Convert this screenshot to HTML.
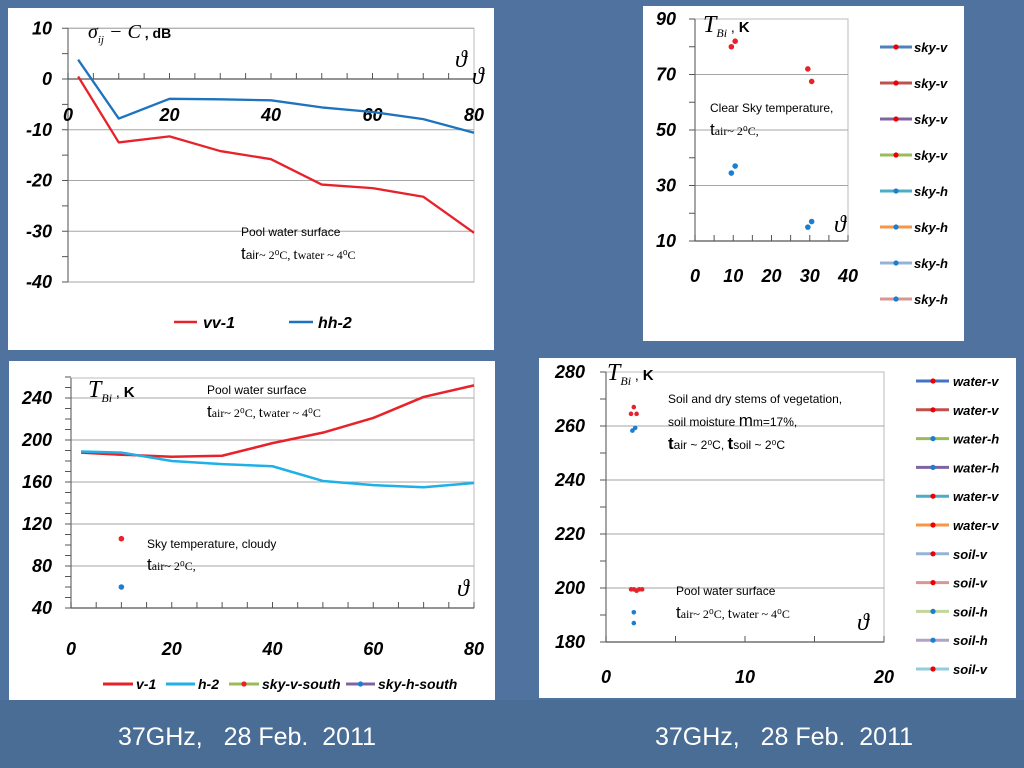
<!DOCTYPE html>
<html><head><meta charset="utf-8"><style>
html,body{margin:0;padding:0;width:1024px;height:768px;overflow:hidden}
body{background:linear-gradient(180deg,#4a6d98 0%,#5a7fac 45%,#5f84b1 70%,#4b6d96 100%);font-family:"Liberation Sans",sans-serif}
svg{position:absolute;left:0;top:0}
.foot{position:absolute;top:723px;color:#fff;font-size:25px;font-family:"Liberation Sans",sans-serif;white-space:pre}
</style></head><body>
<svg id="s" width="1024" height="768">
<rect x="0" y="0" width="1024" height="700" fill="#4f729f"/>
<rect x="0" y="700" width="1024" height="68" fill="#4a6d95"/>
<rect x="8" y="8" width="486" height="342" fill="#fff"/>
<rect x="643" y="6" width="321" height="335" fill="#fff"/>
<rect x="9" y="361" width="486" height="339" fill="#fff"/>
<rect x="539" y="358" width="477" height="340" fill="#fff"/>
</svg>
<div class="foot" style="left:118px">37GHz,   28 Feb.  2011</div>
<div class="foot" style="left:655px">37GHz,   28 Feb.  2011</div>
<script>
// Chart 1: backscatter
const c1Angles=[2,10,20,30,40,50,60,70,80];
const c1VV=[0.5,-12.5,-11.3,-14.2,-15.8,-20.8,-21.5,-23.2,-30.3];
const c1HH=[3.8,-7.8,-3.9,-4.0,-4.2,-5.6,-6.5,-7.9,-10.6];
const c1YTicks=[10,0,-10,-20,-30,-40];
const c1XTicks=[0,20,40,60,80];
// Chart 2: clear sky
const c2VAngles=[9.5,10.5,29.5,30.5];
const c2VVals=[80,82,72,67.5];
const c2HAngles=[9.5,10.5,29.5,30.5];
const c2HVals=[34.5,37,15,17];
const c2YTicks=[90,70,50,30,10];
const c2XTicks=[0,10,20,30,40];
const c2Legend=["sky-v","sky-v","sky-v","sky-v","sky-h","sky-h","sky-h","sky-h"];
// Chart 3: pool Tb
const c3Angles=[2,10,20,30,40,50,60,70,80];
const c3V=[188,186,184,185,197,207,221,241,252];
const c3H=[189,188,180,177,175,161,157,155,159];
const c3SkyAngles=[10,10];
const c3SkyVals=[106,60];
const c3YTicks=[240,200,160,120,80,40];
const c3XTicks=[0,20,40,60,80];
// Chart 4: soil / water
const c4RedAngles=[2,1.8,2.2,1.8,2.0,2.2,2.4,2.6];
const c4RedVals=[267,264.5,264.5,199.5,199.5,199,199.5,199.5];
const c4BlueAngles=[1.9,2.1,2,2];
const c4BlueVals=[258.3,259.3,191,187];
const c4YTicks=[280,260,240,220,200,180];
const c4XTicks=[0,10,20];
const c4Legend=["water-v","water-v","water-h","water-h","water-v","water-v","soil-v","soil-v","soil-h","soil-h","soil-v"];
const c4LegCols=["#4472c4","#c0504d","#9bbb59","#8064a2","#4bacc6","#f79646","#95b3d7","#d99694","#c3d69b","#b3a2c7","#93cddd"];
const c4LegDots=["#e00","#e00","#1a7fd0","#1a7fd0","#e00","#e00","#e00","#e00","#1a7fd0","#1a7fd0","#e00"];
const c2LegCols=["#4f81bd","#c0504d","#8064a2","#9bbb59","#4bacc6","#f79646","#95b3d7","#d99694"];
const c2LegDots=["#e00","#e00","#e00","#e00","#1a7fd0","#1a7fd0","#1a7fd0","#1a7fd0"];

const NS="http://www.w3.org/2000/svg";
const svg=document.getElementById('s');
function el(tag,attrs,txt){const e=document.createElementNS(NS,tag);for(const k in attrs)e.setAttribute(k,attrs[k]);if(txt!==undefined)e.textContent=txt;svg.appendChild(e);return e;}
function lin(d0,d1,p0,p1){return v=>p0+(v-d0)*(p1-p0)/(d1-d0);}
const LBL='font-family:"Liberation Sans",sans-serif;font-weight:bold;font-style:italic;font-size:18px';

function frame(x0,x1,yTop,yBot,sx,sy,yTicks,gridVals,minorY,minorX,xAxisY,xLabY,yLabX,xTicks,name){
  let e=el('rect',{x:x0,y:yTop,width:x1-x0,height:yBot-yTop,fill:'none',stroke:'#bbb','stroke-width':1});
  
  gridVals.forEach(v=>{const g=el('line',{x1:x0,x2:x1,y1:sy(v),y2:sy(v),stroke:'#a6a6a6','stroke-width':1});
    });
  const ya=el('line',{x1:x0,x2:x0,y1:yTop,y2:yBot,stroke:'#777','stroke-width':1.3});
  
  const xa=el('line',{x1:x0,x2:x1,y1:xAxisY,y2:xAxisY,stroke:'#555','stroke-width':1.3});
  
  minorY.forEach(v=>{const t=el('line',{x1:x0-6,x2:x0,y1:sy(v),y2:sy(v),stroke:'#555'});
    });
  minorX.forEach(v=>{const t=el('line',{x1:sx(v),x2:sx(v),y1:xAxisY-6,y2:xAxisY,stroke:'#555'});
    });
  yTicks.forEach(v=>{const t=el('text',{x:yLabX,y:sy(v)+6,'text-anchor':'end',style:LBL},String(v));
    });
  xTicks.forEach(v=>{const t=el('text',{x:sx(v),y:xLabY,'text-anchor':'middle',style:LBL},String(v));
    });
}
function range(a,b,s){const r=[];for(let v=a;v<=b+1e-9;v+=s)r.push(v);return r;}
function poly(xs,ys,sx,sy,col,w,name){
  const p=el('polyline',{points:xs.map((x,i)=>sx(x)+','+sy(ys[i])).join(' '),fill:'none',stroke:col,'stroke-width':w,'stroke-linejoin':'round'});
  }
function dots(xs,ys,sx,sy,col,r,name){xs.forEach((x,i)=>{const c=el('circle',{cx:sx(x),cy:sy(ys[i]),r:r,fill:col});
  });}
function txt(x,y,s,style,name){const t=el('text',{x:x,y:y,style:style},s);return t;}
function tspanText(x,y,parts,name){const t=el('text',{x:x,y:y});
  parts.forEach(p=>{const s=document.createElementNS(NS,'tspan');s.setAttribute('style',p[1]);if(p[2])s.setAttribute('dy',p[2]);s.textContent=p[0];t.appendChild(s);});}
const SER='font-family:"Liberation Serif",serif;';
const SANS='font-family:"Liberation Sans",sans-serif;';

// ---------- Chart 1
{const sx=lin(0,80,68,474), sy=lin(0,-40,79,282);
frame(68,474,sy(10),sy(-40),sx,sy,c1YTicks,[10,-10,-20,-30,-40],range(-40,10,5),range(0,80,5),sy(0),121,52,c1XTicks,'chart1');
poly(c1Angles,c1VV,sx,sy,'#e8222b',2.3,'vv-1-line');
poly(c1Angles,c1HH,sx,sy,'#1e73be',2.3,'hh-2-line');
tspanText(88,38,[['σ',SER+'font-style:italic;font-size:20px'],['ij',SER+'font-style:italic;font-size:11px','5'],[' − C',SER+'font-style:italic;font-size:20px','-5'],[' , dB',SANS+'font-weight:bold;font-size:14px']],'y-axis-title');
txt(455,67,'ϑ',SER+'font-style:italic;font-size:24px','x-axis-symbol');
txt(472,84,'ϑ',SER+'font-style:italic;font-size:24px','x-axis-symbol-2');
txt(241,236,'Pool water surface',SANS+'font-size:12px','annotation-pool');
tspanText(241,259,[['t',SANS+'font-size:17px'],['air',SANS+'font-size:12px'],['~ 2⁰C,  ',SER+'font-size:12px'],['t',SER+'font-size:15px'],['water ~ 4⁰C',SER+'font-size:12px']],'annotation-conditions');
let l=el('line',{x1:174,x2:197,y1:322,y2:322,stroke:'#e8222b','stroke-width':2.5});
txt(203,328,'vv-1',LBL.replace('18px','16px'),'legend-vv-1');
l=el('line',{x1:289,x2:313,y1:322,y2:322,stroke:'#1e73be','stroke-width':2.5});
txt(318,328,'hh-2',LBL.replace('18px','16px'),'legend-hh-2');
}
// ---------- Chart 2
{const sx=lin(0,40,695,848), sy=lin(10,90,241,19);
frame(695,848,19,241,sx,sy,c2YTicks,[70,50,30],range(10,90,10),range(0,40,5),241,282,676,c2XTicks,'chart2');
dots(c2VAngles,c2VVals,sx,sy,'#e8222b',2.8,'sky-v-point');
dots(c2HAngles,c2HVals,sx,sy,'#1a7fd0',2.8,'sky-h-point');
tspanText(703,32,[['T',SER+'font-style:italic;font-size:24px'],['Bi',SER+'font-style:italic;font-size:12px','5'],[' , ',SANS+'font-size:14px','-5'],['K',SANS+'font-weight:bold;font-size:15px']],'y-axis-title');
txt(710,112,'Clear Sky temperature,',SANS+'font-size:12px','annotation-clear-sky');
tspanText(710,135,[['t',SANS+'font-size:17px'],['air~ 2⁰C,',SER+'font-size:12px']],'annotation-conditions');
txt(834,232,'ϑ',SER+'font-style:italic;font-size:24px','x-axis-symbol');
c2Legend.forEach((n,i)=>{const y=47+i*36;
  const a=el('line',{x1:880,x2:912,y1:y,y2:y,stroke:c2LegCols[i],'stroke-width':3});
  
  const d=el('circle',{cx:896,cy:y,r:2.6,fill:c2LegDots[i]});
  
  txt(914,y+5,n,SANS+'font-style:italic;font-weight:bold;font-size:13px','legend-entry');});
}
// ---------- Chart 3
{const sx=lin(0,80,71,474), sy=lin(160,240,482,398);
frame(71,474,378,sy(40),sx,sy,c3YTicks,[240,200,160,120,80],range(40,260,10),range(0,80,5),sy(40),655,52,c3XTicks,'chart3');
poly(c3Angles,c3V,sx,sy,'#e8222b',2.5,'v-1-line');
poly(c3Angles,c3H,sx,sy,'#1fb0e8',2.5,'h-2-line');
dots(c3SkyAngles.slice(0,1),c3SkyVals.slice(0,1),sx,sy,'#e8222b',2.8,'sky-v-south-point');
dots(c3SkyAngles.slice(1),c3SkyVals.slice(1),sx,sy,'#1a7fd0',2.8,'sky-h-south-point');
tspanText(88,397,[['T',SER+'font-style:italic;font-size:24px'],['Bi',SER+'font-style:italic;font-size:12px','5'],[' , ',SANS+'font-size:14px','-5'],['K',SANS+'font-weight:bold;font-size:15px']],'y-axis-title');
txt(207,394,'Pool water surface',SANS+'font-size:12px','annotation-pool');
tspanText(207,417,[['t',SANS+'font-size:17px'],['air~ 2⁰C,  ',SER+'font-size:12px'],['t',SER+'font-size:15px'],['water ~ 4⁰C',SER+'font-size:12px']],'annotation-conditions');
txt(147,548,'Sky temperature, cloudy',SANS+'font-size:12px','annotation-sky');
tspanText(147,570,[['t',SANS+'font-size:17px'],['air~ 2⁰C,',SER+'font-size:12px']],'annotation-sky-conditions');
txt(457,596,'ϑ',SER+'font-style:italic;font-size:24px','x-axis-symbol');
const LS=LBL.replace('18px','14px');
const items=[[103,133,'#e8222b',null,'v-1'],[166,195,'#1fb0e8',null,'h-2'],[229,259,'#9bbb59','#e8222b','sky-v-south'],[346,375,'#8064a2','#1a7fd0','sky-h-south']];
items.forEach(it=>{const a=el('line',{x1:it[0],x2:it[1],y1:684,y2:684,stroke:it[2],'stroke-width':3});
  
  if(it[3]){const d=el('circle',{cx:(it[0]+it[1])/2,cy:684,r:2.6,fill:it[3]});}
  txt(it[1]+3,689,it[4],LS,'legend-entry');});
}
// ---------- Chart 4
{const sx=lin(0,20,606,884), sy=lin(200,260,588,426);
frame(606,884,372,sy(180),sx,sy,c4YTicks,[260,240,220,200],range(180,280,10),range(0,20,5),sy(180),683,585,c4XTicks,'chart4');
dots(c4RedAngles,c4RedVals,sx,sy,'#e8222b',2.3,'red-point');
dots(c4BlueAngles,c4BlueVals,sx,sy,'#1a7fd0',2.3,'blue-point');
tspanText(607,380,[['T',SER+'font-style:italic;font-size:24px'],['Bi',SER+'font-style:italic;font-size:12px','5'],[' , ',SANS+'font-size:14px','-5'],['K',SANS+'font-weight:bold;font-size:15px']],'y-axis-title');
txt(668,403,'Soil and dry stems of vegetation,',SANS+'font-size:12px','annotation-soil');
tspanText(668,426,[['soil moisture ',SANS+'font-size:12px'],['m',SANS+'font-size:17px'],['m=17%,',SANS+'font-size:12px']],'annotation-moisture');
tspanText(668,449,[['t',SANS+'font-weight:bold;font-size:17px'],['air ~ 2⁰C, ',SANS+'font-size:12px'],['t',SANS+'font-weight:bold;font-size:17px'],['soil ~ 2⁰C',SANS+'font-size:12px']],'annotation-soil-conditions');
txt(676,595,'Pool water surface',SANS+'font-size:12px','annotation-pool');
tspanText(676,618,[['t',SANS+'font-size:17px'],['air~ 2⁰C,  ',SER+'font-size:12px'],['t',SER+'font-size:15px'],['water ~ 4⁰C',SER+'font-size:12px']],'annotation-pool-conditions');
txt(857,630,'ϑ',SER+'font-style:italic;font-size:24px','x-axis-symbol');
c4Legend.forEach((n,i)=>{const y=381+i*28.8;
  const a=el('line',{x1:916,x2:949,y1:y,y2:y,stroke:c4LegCols[i],'stroke-width':3});
  
  const d=el('circle',{cx:933,cy:y,r:2.6,fill:c4LegDots[i]});
  
  txt(953,y+5,n,SANS+'font-style:italic;font-weight:bold;font-size:13px','legend-entry');});
}
</script>
</body></html>
